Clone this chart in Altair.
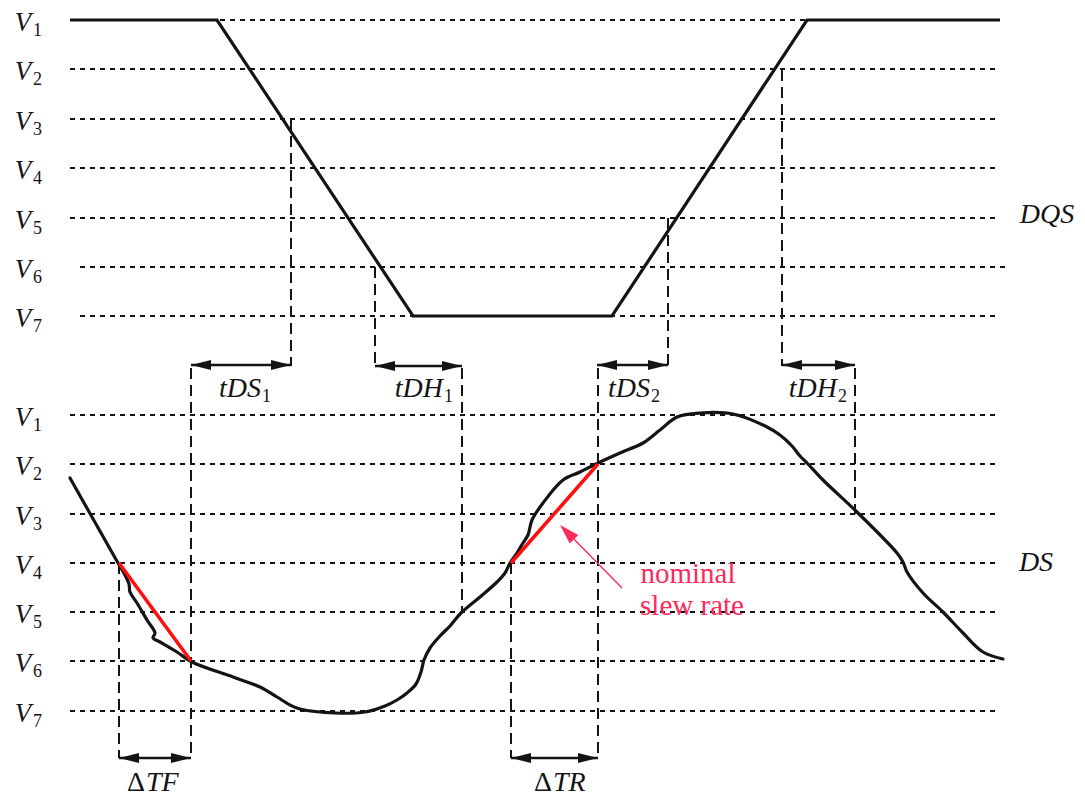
import math
import altair as alt
import pandas as pd

# ---------------- data (diagram units: x = time, y = level row, top to bottom) ----------------
LEVEL_NAMES = ["1", "2", "3", "4", "5", "6", "7"]
DQS_LEVEL_Y = [20, 69, 119, 168, 218, 267, 316]
DS_LEVEL_Y = [415, 464, 514, 563, 612, 661, 711]
DQS_GRID_X0 = [70, 70, 70, 70, 70, 80, 80]
DQS_GRID_X1 = [1000, 1000, 1000, 1000, 1000, 1005, 1000]
DS_GRID_X0 = [70, 70, 70, 70, 70, 70, 70]
DS_GRID_X1 = [1000, 1000, 1000, 1000, 1000, 1000, 1000]

# DQS strobe waveform
DQS_T = [70, 217, 413, 612, 807, 1000]
DQS_V = [20, 20, 316, 316, 20, 20]

# DS data waveform
DS_T = [70, 118, 125, 129, 130, 137, 147, 155, 153, 160, 177, 192, 233, 260, 277, 290,
        300, 335, 365, 385, 397, 407, 416, 421, 424, 430, 440, 450, 461, 480, 497, 505, 510,
        517, 523, 528, 532, 543, 563, 580, 598, 620, 643, 660, 677, 700, 733, 767, 780, 792,
        800, 808, 823, 857, 897, 903, 907, 923, 943, 963, 983, 1003]
DS_V = [478, 563, 575, 584, 592, 603, 620, 633, 638, 642, 652, 662, 677, 687, 697, 705,
        709, 713, 712, 706, 700, 693, 684, 672, 660, 648, 636, 626, 613, 597, 582, 573, 563,
        553, 543, 535, 520, 503, 480, 472, 463, 453, 443, 430, 417, 413, 414, 427, 435, 446,
        456, 464, 480, 512, 553, 562, 572, 593, 612, 633, 652, 659]

# nominal slew-rate segments (red)
SLEW_T1 = [119, 511]
SLEW_V1 = [563, 563]
SLEW_T2 = [191, 598]
SLEW_V2 = [661, 464]

# dashed timing markers
MARK_T = [291, 375, 668, 782, 191, 462, 598, 855, 119, 511]
MARK_V1 = [119, 267, 218, 70, 368, 368, 368, 368, 563, 563]
MARK_V2 = [366, 366, 366, 366, 758, 612, 758, 514, 758, 758]

# double-headed interval arrows
ARROW_T1 = [191, 375, 597, 782, 119, 511]
ARROW_T2 = [291, 462, 668, 855, 191, 598]
ARROW_V = [365, 366, 365, 365, 758, 758]

# interval labels with subscripts
SUB_LABELS = ["tDS", "tDH", "tDS", "tDH"]
SUB_INDEX = ["1", "1", "2", "2"]
SUB_T = [262, 444, 651, 838]
SUB_V = [389, 389, 389, 389]

# delta labels: upright Δ + italic name
DELTA_NAMES = ["TF", "TR"]
DELTA_T = [136, 543]
DELTA_V = [783, 783]

SIDE_LABELS = ["DQS", "DS"]
SIDE_T = [1047, 1036]
SIDE_V = [215, 563]

NOTE_LINES = ["nominal", "slew rate"]
NOTE_T = [688, 692]
NOTE_V = [574, 606]
NOTE_ARROW_TAIL = (622, 588)
NOTE_ARROW_TIP = (560, 525)

# ---------------- scales ----------------
X = alt.Scale(domain=[8, 1077])
Y = alt.Scale(domain=[798, 8])
SERIF = "Liberation Serif"
INK = "#141414"
RED = "#ff1010"
PINK = "#ff2a5c"


def xe(field="x"):
    return alt.X(f"{field}:Q", scale=X, axis=None)


def ye(field="y"):
    return alt.Y(f"{field}:Q", scale=Y, axis=None)


# grid lines
grid_rows = []
for ys, x0s, x1s in ((DQS_LEVEL_Y, DQS_GRID_X0, DQS_GRID_X1), (DS_LEVEL_Y, DS_GRID_X0, DS_GRID_X1)):
    for yv, a, b in zip(ys, x0s, x1s):
        grid_rows.append({"x": a, "x2": b, "y": yv})
grid = alt.Chart(pd.DataFrame(grid_rows)).mark_rule(
    color=INK, strokeWidth=2, strokeDash=[5, 5]
).encode(x=xe(), x2="x2:Q", y=ye())

marks = alt.Chart(pd.DataFrame({"x": MARK_T, "y": MARK_V1, "y2": MARK_V2})).mark_rule(
    color=INK, strokeWidth=2, strokeDash=[11, 6]
).encode(x=xe(), y=ye(), y2="y2:Q")

dqs = alt.Chart(pd.DataFrame({"x": DQS_T, "y": DQS_V, "i": range(len(DQS_T))})).mark_line(
    color=INK, strokeWidth=3.2, strokeJoin="miter"
).encode(x=xe(), y=ye(), order="i:Q")

ds = alt.Chart(pd.DataFrame({"x": DS_T, "y": DS_V, "i": range(len(DS_T))})).mark_line(
    color=INK, strokeWidth=3.2, interpolate="catmull-rom", strokeCap="round"
).encode(x=xe(), y=ye(), order="i:Q")

slew = alt.Chart(pd.DataFrame({"x": SLEW_T1, "y": SLEW_V1, "x2": SLEW_T2, "y2": SLEW_V2})).mark_rule(
    color=RED, strokeWidth=3.6
).encode(x=xe(), y=ye(), x2="x2:Q", y2="y2:Q")

# arrows
shafts = alt.Chart(pd.DataFrame({"x": ARROW_T1, "x2": ARROW_T2, "y": ARROW_V})).mark_rule(
    color=INK, strokeWidth=2.6
).encode(x=xe(), x2="x2:Q", y=ye())

LEFT_HEAD = "M0,0 L2,-0.5 L2,0.5 Z"
RIGHT_HEAD = "M0,0 L-2,-0.5 L-2,0.5 Z"
head_rows = []
for a, b, yv in zip(ARROW_T1, ARROW_T2, ARROW_V):
    head_rows.append({"x": a, "y": yv, "s": LEFT_HEAD})
    head_rows.append({"x": b, "y": yv, "s": RIGHT_HEAD})
heads = alt.Chart(pd.DataFrame(head_rows)).mark_point(
    filled=True, color=INK, opacity=1, size=400, strokeWidth=0
).encode(x=xe(), y=ye(), shape=alt.Shape("s:N", scale=None))

# note arrow (red)
tx, ty = NOTE_ARROW_TAIL
hx, hy = NOTE_ARROW_TIP
ang = math.degrees(math.atan2(ty - hy, tx - hx))
L = math.hypot(tx - hx, ty - hy)
bx = hx + (tx - hx) * 18 / L
by = hy + (ty - hy) * 18 / L
note_shaft = alt.Chart(pd.DataFrame({"x": [tx], "y": [ty], "x2": [bx], "y2": [by]})).mark_rule(
    color=PINK, strokeWidth=1.4
).encode(x=xe(), y=ye(), x2="x2:Q", y2="y2:Q")
note_head = alt.Chart(pd.DataFrame({"x": [hx], "y": [hy]})).mark_point(
    filled=True, color=PINK, opacity=1, size=100, strokeWidth=0,
    shape="M0,0 L4,-1.2 L4,1.2 Z", angle=ang
).encode(x=xe(), y=ye())

# level labels
vrows = []
for ys in (DQS_LEVEL_Y, DS_LEVEL_Y):
    for yv, n in zip(ys, LEVEL_NAMES):
        vrows.append({"x": 23, "y": yv + 3, "t": "V", "xs": 33, "ys": yv + 11, "n": n})
vdf = pd.DataFrame(vrows)
vlab = alt.Chart(vdf).mark_text(
    font=SERIF, fontStyle="italic", fontSize=27, color=INK, align="center", baseline="middle"
).encode(x=xe(), y=ye(), text="t:N")
vsub = alt.Chart(vdf).mark_text(
    font=SERIF, fontSize=18, color=INK, align="left", baseline="middle"
).encode(x=xe("xs"), y=ye("ys"), text="n:N")

sdf = pd.DataFrame({"x": SUB_T, "y": SUB_V, "t": SUB_LABELS, "n": SUB_INDEX,
                    "ys": [v + 8 for v in SUB_V]})
slab = alt.Chart(sdf).mark_text(
    font=SERIF, fontStyle="italic", fontSize=28, color=INK, align="right", baseline="middle", dx=-1
).encode(x=xe(), y=ye(), text="t:N")
ssub = alt.Chart(sdf).mark_text(
    font=SERIF, fontSize=18, color=INK, align="left", baseline="middle"
).encode(x=xe(), y=ye("ys"), text="n:N")

ddf = pd.DataFrame({"x": DELTA_T, "y": DELTA_V, "t": DELTA_NAMES, "d": ["Δ", "Δ"]})
dsym = alt.Chart(ddf).mark_text(
    font=SERIF, fontSize=28, color=INK, align="center", baseline="middle"
).encode(x=xe(), y=ye(), text="d:N")
dname = alt.Chart(ddf).mark_text(
    font=SERIF, fontStyle="italic", fontSize=28, color=INK, align="left", baseline="middle", dx=10
).encode(x=xe(), y=ye(), text="t:N")

side = alt.Chart(pd.DataFrame({"x": SIDE_T, "y": SIDE_V, "t": SIDE_LABELS})).mark_text(
    font=SERIF, fontStyle="italic", fontSize=28, color=INK, align="center", baseline="middle"
).encode(x=xe(), y=ye(), text="t:N")

note = alt.Chart(pd.DataFrame({"x": NOTE_T, "y": NOTE_V, "t": NOTE_LINES})).mark_text(
    font=SERIF, fontSize=29, color=PINK, align="center", baseline="middle"
).encode(x=xe(), y=ye(), text="t:N")

chart = alt.layer(
    grid, marks, dqs, ds, slew, shafts, heads, note_shaft, note_head,
    vlab, vsub, slab, ssub, dsym, dname, side, note
).properties(
    width=1069, height=790, padding=0,
    autosize=alt.AutoSizeParams(type="none"),
    background="white",
).configure_view(stroke=None)

chart.save("out.html", embed_options={"renderer": "svg", "actions": False})
